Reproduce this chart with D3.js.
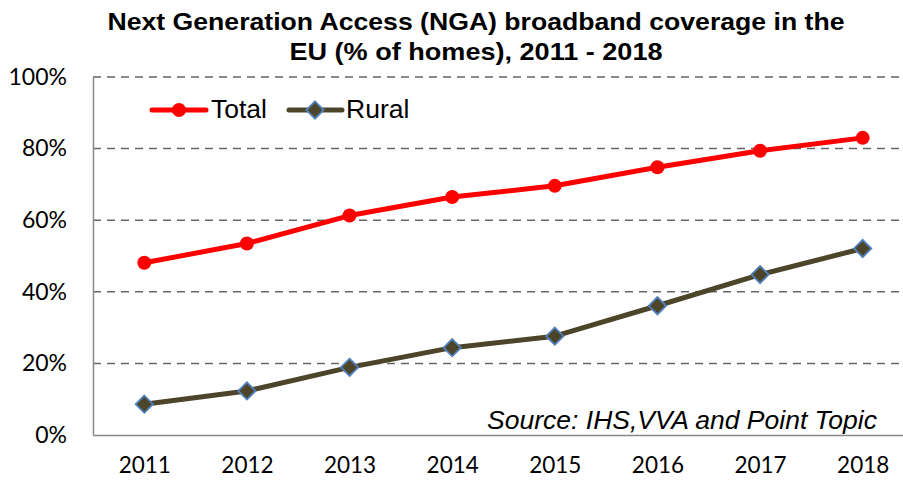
<!DOCTYPE html>
<html>
<head>
<meta charset="utf-8">
<script src="https://cdn.jsdelivr.net/npm/d3@7"></script>
<style>
  html, body { margin: 0; padding: 0; background: #fff; }
  svg { display: block; }
</style>
</head>
<body>
<svg id="chart" width="903" height="480"></svg>
<script>
const years = ["2011", "2012", "2013", "2014", "2015", "2016", "2017", "2018"];
const totalValues = [48.1, 53.5, 61.3, 66.5, 69.6, 74.8, 79.4, 83.0];
const ruralValues = [8.6, 12.3, 18.9, 24.4, 27.6, 36.1, 44.8, 52.1];
const yTicks = [0, 20, 40, 60, 80, 100];
const titleLines = ["Next Generation Access (NGA) broadband coverage in the", "EU (% of homes), 2011 - 2018"];
const seriesNames = ["Total", "Rural"];
const sourceText = "Source: IHS,VVA and Point Topic";

const svg = d3.select("#chart");
const plot = { left: 93, right: 914, top: 77, bottom: 435 };

const x = d3.scalePoint().domain(years).range([plot.left, plot.right]).padding(0.5);
const y = d3.scaleLinear().domain([0, 100]).range([plot.bottom, plot.top]);

// Title
svg.append("g").selectAll("text").data(titleLines).join("text")
  .attr("x", 476).attr("y", (d, i) => 30 + i * 30)
  .attr("text-anchor", "middle")
  .attr("font-family", "Liberation Sans, Arial, sans-serif")
  .attr("font-weight", "bold")
  .attr("font-size", 24)
  .attr("textLength", (d, i) => i === 0 ? 737 : 373)
  .attr("lengthAdjust", "spacingAndGlyphs")
  .attr("fill", "#000")
  .text(d => d);

// Gridlines
svg.append("g").selectAll("line").data(yTicks.filter(t => t > 0)).join("line")
  .attr("x1", plot.left).attr("x2", plot.right)
  .attr("y1", d => y(d)).attr("y2", d => y(d))
  .attr("stroke", "#666").attr("stroke-width", 1.5)
  .attr("stroke-dasharray", "8,6");

// Y axis
const yAxis = d3.axisLeft(y).tickValues(yTicks).tickFormat(d => d + "%").tickSize(0).tickPadding(26);
const gy = svg.append("g").attr("transform", `translate(${plot.left},0)`).call(yAxis);
gy.select(".domain").attr("stroke", "#888").attr("stroke-width", 1.5);
gy.selectAll("text").attr("font-family", "Lato, Calibri, sans-serif").attr("font-size", 23).attr("fill", "#000");

// X axis
const xAxis = d3.axisBottom(x).tickSize(0).tickPadding(22);
const gx = svg.append("g").attr("transform", `translate(0,${plot.bottom})`).call(xAxis);
gx.select(".domain").attr("stroke", "#888").attr("stroke-width", 1.5);
gx.selectAll("text").attr("font-family", "Lato, Calibri, sans-serif").attr("font-size", 22.5).attr("fill", "#000");

// Lines
const line = d3.line().x((d, i) => x(years[i])).y(d => y(d));
const totalColor = "#ff0000";
const ruralColor = "#4d452a";
const diamondStroke = "#4f81bd";

svg.append("path").datum(totalValues).attr("d", line)
  .attr("fill", "none").attr("stroke", totalColor).attr("stroke-width", 5).attr("stroke-linejoin", "round");
svg.append("path").datum(ruralValues).attr("d", line)
  .attr("fill", "none").attr("stroke", ruralColor).attr("stroke-width", 5).attr("stroke-linejoin", "round");

svg.append("g").selectAll("circle").data(totalValues).join("circle")
  .attr("cx", (d, i) => x(years[i])).attr("cy", d => y(d)).attr("r", 7)
  .attr("fill", totalColor);

const diamond = d3.symbol().type(d3.symbolDiamond2).size(190);
svg.append("g").selectAll("path").data(ruralValues).join("path")
  .attr("d", diamond)
  .attr("transform", (d, i) => `translate(${x(years[i])},${y(d)})`)
  .attr("fill", ruralColor).attr("stroke", diamondStroke).attr("stroke-width", 1.8);

// Legend
const legend = svg.append("g");
legend.append("line").attr("x1", 152).attr("x2", 206).attr("y1", 110).attr("y2", 110)
  .attr("stroke", totalColor).attr("stroke-width", 5).attr("stroke-linecap", "round");
legend.append("circle").attr("cx", 179).attr("cy", 110).attr("r", 7).attr("fill", totalColor);
legend.append("text").attr("x", 211).attr("y", 118).text(seriesNames[0]);
legend.append("line").attr("x1", 289).attr("x2", 342).attr("y1", 110).attr("y2", 110)
  .attr("stroke", ruralColor).attr("stroke-width", 5).attr("stroke-linecap", "round");
legend.append("path").attr("d", diamond)
  .attr("transform", "translate(315,110)")
  .attr("fill", ruralColor).attr("stroke", diamondStroke).attr("stroke-width", 1.8);
legend.append("text").attr("x", 346).attr("y", 118).text(seriesNames[1]);
legend.selectAll("text").attr("font-family", "Liberation Sans, Arial, sans-serif").attr("font-size", 26.5).attr("fill", "#000");

// Source
svg.append("text").attr("x", 877).attr("y", 429).attr("text-anchor", "end")
  .attr("font-family", "Liberation Sans, Arial, sans-serif").attr("font-style", "italic")
  .attr("font-size", 26.5).attr("fill", "#000").text(sourceText);
</script>
</body>
</html>
